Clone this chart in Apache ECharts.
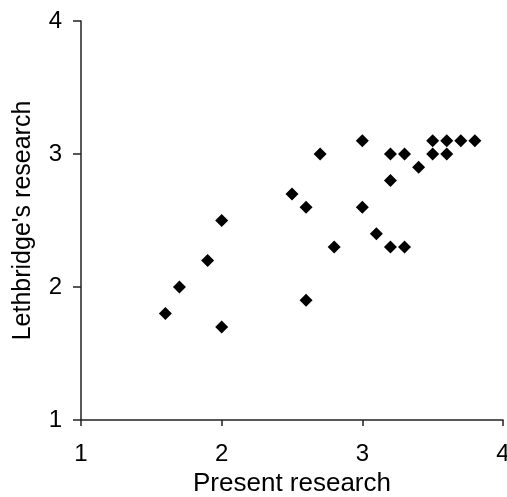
<!DOCTYPE html>
<html>
<head>
<meta charset="utf-8">
<script src="https://cdn.jsdelivr.net/npm/echarts@6/dist/echarts.min.js"></script>
<style>html,body{margin:0;padding:0;background:#fff;}#c{width:507px;height:497px;}</style>
</head>
<body>
<div id="c"></div>
<script>
const presentResearch = [1.6, 1.7, 1.9, 2.0, 2.0, 2.5, 2.6, 2.6, 2.7, 2.8, 3.0, 3.0, 3.1, 3.2, 3.2, 3.2, 3.3, 3.3, 3.4, 3.5, 3.5, 3.6, 3.6, 3.7, 3.8];
const lethbridgeResearch = [1.8, 2.0, 2.2, 2.5, 1.7, 2.7, 2.6, 1.9, 3.0, 2.3, 3.1, 2.6, 2.4, 3.0, 2.8, 2.3, 3.0, 2.3, 2.9, 3.1, 3.0, 3.1, 3.0, 3.1, 3.1];
const xTicks = [1, 2, 3, 4];
const yTicks = [1, 2, 3, 4];
const xName = 'Present research';
const yName = "Lethbridge's research";

const points = presentResearch.map((x, i) => [x, lethbridgeResearch[i]]);
const font = 'Liberation Sans, Arial, Helvetica, sans-serif';
const chart = echarts.init(document.getElementById('c'), null, {renderer: 'canvas'});
chart.setOption({
  animation: false,
  backgroundColor: '#fff',
  grid: {left: 81, right: 4, top: 21, bottom: 77, containLabel: false, outerBoundsMode: 'none'},
  xAxis: {
    type: 'value', min: xTicks[0], max: xTicks[xTicks.length - 1], interval: 1,
    name: xName, nameLocation: 'middle', nameGap: 51,
    nameTextStyle: {fontFamily: font, fontSize: 26, color: '#000'},
    axisLine: {show: true, onZero: false, lineStyle: {color: '#222', width: 1.5}},
    axisTick: {show: true, length: 6, lineStyle: {color: '#222', width: 1.5}},
    axisLabel: {fontFamily: font, fontSize: 24, color: '#000', margin: 22},
    splitLine: {show: false}
  },
  yAxis: {
    type: 'value', min: yTicks[0], max: yTicks[yTicks.length - 1], interval: 1,
    name: yName, nameLocation: 'middle', nameGap: 45, nameRotate: 90,
    nameTextStyle: {fontFamily: font, fontSize: 25, color: '#000'},
    axisLine: {show: true, onZero: false, lineStyle: {color: '#222', width: 1.5}},
    axisTick: {show: true, length: 8, lineStyle: {color: '#222', width: 1.5}},
    axisLabel: {fontFamily: font, fontSize: 24, color: '#000', margin: 19},
    splitLine: {show: false}
  },
  series: [{
    type: 'scatter',
    data: points,
    symbol: 'diamond',
    symbolSize: [13, 13],
    itemStyle: {color: '#000', opacity: 1}
  }]
});
</script>
</body>
</html>
